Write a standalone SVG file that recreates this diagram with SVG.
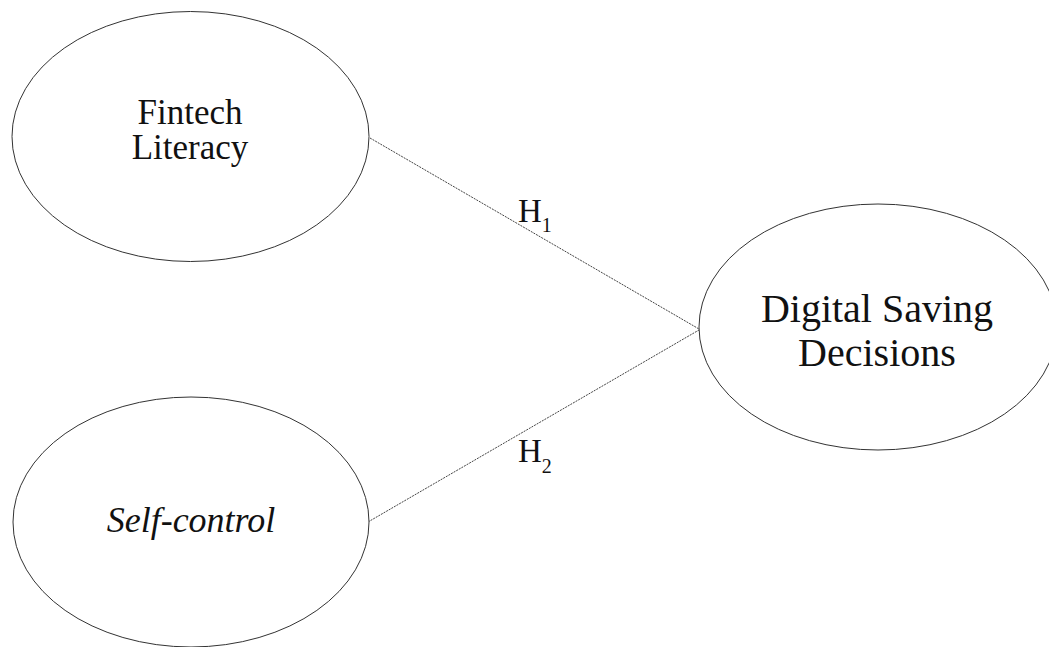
<svg xmlns="http://www.w3.org/2000/svg" width="1049" height="647" viewBox="0 0 1049 647">
<style>
.node{fill:#fff;stroke:#333;stroke-width:1}
.lbl{font-family:"Liberation Serif","Times New Roman",serif;fill:#111;text-anchor:middle}
.conn{stroke:#444;stroke-width:1;stroke-dasharray:2 1;fill:none}
.h{font-family:"Liberation Serif","Times New Roman",serif;fill:#111}
</style>
<rect width="1049" height="647" fill="#fff"/>
<g id="connectors">
<line class="conn" x1="370" y1="138" x2="699" y2="329"/>
<line class="conn" x1="368" y1="522" x2="699" y2="330"/>
<text class="h" x="518" y="222" font-size="33">H<tspan font-size="20" dy="10">1</tspan></text>
<text class="h" x="518" y="462" font-size="33">H<tspan font-size="20" dy="11">2</tspan></text>
</g>
<g id="fintech">
<ellipse class="node" cx="190.5" cy="136.5" rx="178.5" ry="125"/>
<text class="lbl" x="190" y="124" font-size="35">Fintech</text>
<text class="lbl" x="190" y="159" font-size="35">Literacy</text>
</g>
<g id="selfcontrol">
<ellipse class="node" cx="191" cy="522" rx="178" ry="125"/>
<text class="lbl" x="191" y="532" font-size="36" font-style="italic">Self-control</text>
</g>
<g id="digital">
<ellipse class="node" cx="878" cy="327" rx="179" ry="123"/>
<text class="lbl" x="877" y="322" font-size="40">Digital Saving</text>
<text class="lbl" x="877" y="366" font-size="40">Decisions</text>
</g>
</svg>
